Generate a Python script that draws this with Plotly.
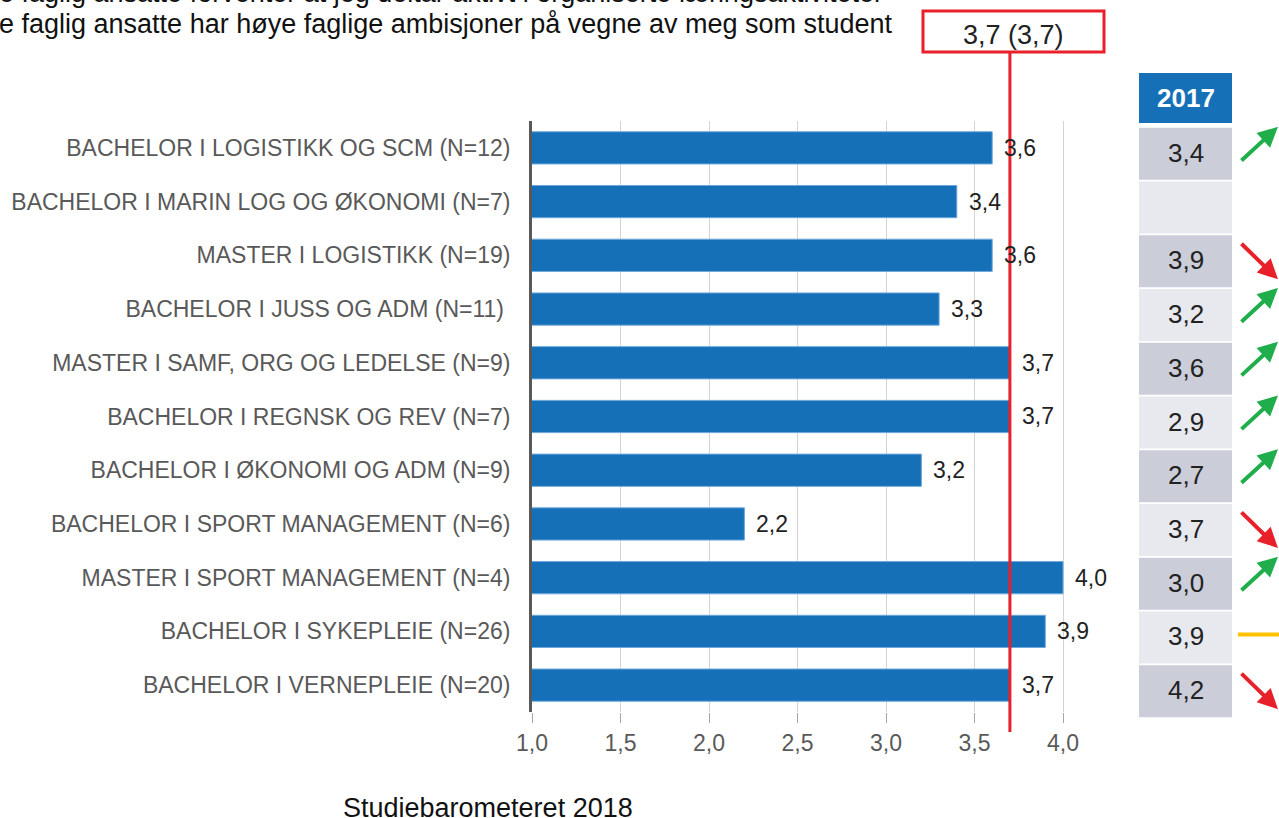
import plotly.graph_objects as go

W, H = 1279, 818

programs = [
    "BACHELOR I LOGISTIKK OG SCM (N=12)",
    "BACHELOR I MARIN LOG OG ØKONOMI (N=7)",
    "MASTER I LOGISTIKK (N=19)",
    "BACHELOR I JUSS OG ADM (N=11)\u00a0",
    "MASTER I SAMF, ORG OG LEDELSE (N=9)",
    "BACHELOR I REGNSK OG REV (N=7)",
    "BACHELOR I ØKONOMI OG ADM (N=9)",
    "BACHELOR I SPORT MANAGEMENT (N=6)",
    "MASTER I SPORT MANAGEMENT (N=4)",
    "BACHELOR I SYKEPLEIE (N=26)",
    "BACHELOR I VERNEPLEIE (N=20)",
]
values_2018 = [3.6, 3.4, 3.6, 3.3, 3.7, 3.7, 3.2, 2.2, 4.0, 3.9, 3.7]
values_2017 = [3.4, None, 3.9, 3.2, 3.6, 2.9, 2.7, 3.7, 3.0, 3.9, 4.2]
average_2018 = 3.7
average_2017 = 3.7
tick_vals = [1.0, 1.5, 2.0, 2.5, 3.0, 3.5, 4.0]
title_lines = [
    "e faglig ansatte forventer at jeg deltar aktivt i organiserte læringsaktiviteter",
    "e faglig ansatte har høye faglige ambisjoner på vegne av meg som student",
]
source_text = "Studiebarometeret 2018"
table_header = "2017"
page_number = "19"


def fmt(v):
    return f"{v:.1f}".replace(".", ",")


def px(x):
    return x / W


def py(y):
    return 1 - y / H


# layout geometry (pixels)
PLOT_L, PLOT_T, PLOT_B = 532, 121, 712
X_MIN, X_MAX = 1.0, 4.2
UNIT = 177.0
PLOT_R = PLOT_L + (X_MAX - X_MIN) * UNIT
PITCH = (PLOT_B - PLOT_T) / len(programs)


def xdata_to_px(v):
    return PLOT_L + (v - X_MIN) * UNIT


BLUE = "#1570b8"
RED = "#e8202a"
GREEN = "#1fae4b"
YELLOW = "#ffc000"
FONT = "Liberation Sans, Arial, sans-serif"

fig = go.Figure()
fig.add_trace(go.Bar(
    x=values_2018, y=programs, orientation="h", width=0.6,
    marker=dict(color=BLUE, line=dict(color="#6fa8dc", width=1)),
    hoverinfo="x+y",
))

annotations = []
shapes = []

# value labels
for p, v in zip(programs, values_2018):
    annotations.append(dict(
        x=v, y=p, xref="x", yref="y", text=fmt(v), showarrow=False,
        xanchor="left", yanchor="middle", xshift=10,
        font=dict(size=23, color="#222222", family=FONT),
    ))

# average line + box
avg_x = xdata_to_px(average_2018)
shapes.append(dict(type="line", xref="paper", yref="paper",
                   x0=px(avg_x), x1=px(avg_x), y0=py(52), y1=py(732),
                   line=dict(color=RED, width=3), layer="above"))
shapes.append(dict(type="rect", xref="paper", yref="paper",
                   x0=px(923), x1=px(1104), y0=py(52), y1=py(11),
                   line=dict(color=RED, width=3), fillcolor="white", layer="above"))
annotations.append(dict(x=px(1013.5), y=py(35), xref="paper", yref="paper",
                        text=f"{fmt(average_2018)} ({fmt(average_2017)})", showarrow=False,
                        xanchor="center", yanchor="middle",
                        font=dict(size=27, color="#222222", family=FONT)))

# title lines (cut off at the top and left)
annotations.append(dict(x=px(-3), y=py(-7), xref="paper", yref="paper", text=title_lines[0],
                        showarrow=False, xanchor="left", yanchor="middle",
                        font=dict(size=27, color="#111111", family=FONT)))
annotations.append(dict(x=px(-3), y=py(24), xref="paper", yref="paper", text=title_lines[1],
                        showarrow=False, xanchor="left", yanchor="middle",
                        font=dict(size=27, color="#111111", family=FONT)))

# source + page number
annotations.append(dict(x=px(488), y=py(808), xref="paper", yref="paper", text=source_text,
                        showarrow=False, xanchor="center", yanchor="middle",
                        font=dict(size=27, color="#111111", family=FONT)))
annotations.append(dict(x=px(1258), y=py(828), xref="paper", yref="paper", text=page_number,
                        showarrow=False, xanchor="left", yanchor="middle",
                        font=dict(size=20, color="#111111", family=FONT)))

# 2017 table
TX0, TX1 = 1139, 1232
shapes.append(dict(type="rect", xref="paper", yref="paper",
                   x0=px(TX0), x1=px(TX1), y0=py(123), y1=py(73),
                   line=dict(width=0), fillcolor=BLUE))
annotations.append(dict(x=px((TX0 + TX1) / 2), y=py(98), xref="paper", yref="paper",
                        text=f"<b>{table_header}</b>", showarrow=False,
                        xanchor="center", yanchor="middle",
                        font=dict(size=26, color="white", family=FONT)))
for i, (v17, v18) in enumerate(zip(values_2017, values_2018)):
    cy = PLOT_T + (i + 0.5) * PITCH + 6
    fill = "#cbcdd9" if i % 2 == 0 else "#e8e9ef"
    shapes.append(dict(type="rect", xref="paper", yref="paper",
                       x0=px(TX0), x1=px(TX1), y0=py(cy + 26), y1=py(cy - 26),
                       line=dict(width=0), fillcolor=fill))
    if v17 is None:
        continue
    annotations.append(dict(x=px((TX0 + TX1) / 2), y=py(cy - 1), xref="paper", yref="paper",
                            text=fmt(v17), showarrow=False,
                            xanchor="center", yanchor="middle",
                            font=dict(size=26, color="#222222", family=FONT)))
    if v18 > v17:
        annotations.append(dict(x=px(1287), y=py(cy - 27), xref="paper", yref="paper",
                                text="", showarrow=True, ax=-47, ay=35,
                                axref="pixel", ayref="pixel",
                                arrowcolor=GREEN, arrowwidth=4, arrowhead=2, arrowsize=1,
                                standoff=0))
    elif v18 < v17:
        annotations.append(dict(x=px(1286), y=py(cy + 18), xref="paper", yref="paper",
                                text="", showarrow=True, ax=-46, ay=-37,
                                axref="pixel", ayref="pixel",
                                arrowcolor=RED, arrowwidth=4, arrowhead=2, arrowsize=1,
                                standoff=0))
    else:
        shapes.append(dict(type="line", xref="paper", yref="paper",
                           x0=px(1238), x1=px(1285), y0=py(cy - 3), y1=py(cy - 3),
                           line=dict(color=YELLOW, width=4)))

fig.update_layout(
    width=W, height=H,
    margin=dict(l=0, r=0, t=0, b=0, pad=0),
    paper_bgcolor="white", plot_bgcolor="white",
    showlegend=False,
    font=dict(family=FONT),
    xaxis=dict(
        domain=[px(PLOT_L), px(PLOT_R)], range=[X_MIN, X_MAX],
        tickvals=tick_vals, ticktext=[fmt(t) for t in tick_vals],
        showgrid=True, gridcolor="#d4d4d4", gridwidth=1,
        ticks="outside", ticklen=10, tickcolor="#a6a6a6", tickwidth=1,
        showline=False, zeroline=False, automargin=False,
        tickfont=dict(size=23, color="#595959", family=FONT),
        ticklabelstandoff=0,
    ),
    yaxis=dict(
        domain=[py(PLOT_B), py(PLOT_T)],
        categoryorder="array", categoryarray=programs, autorange="reversed",
        showgrid=False, showline=True, linecolor="#595959", linewidth=3,
        ticks="", automargin=False,
        tickfont=dict(size=23, color="#595959", family=FONT),
        ticklabelstandoff=14,
    ),
    annotations=annotations, shapes=shapes,
)

fig.write_html(
    "out.html",
    config={"displayModeBar": False},
    post_script="document.body.style.margin='0';document.body.style.overflow='hidden';",
)
